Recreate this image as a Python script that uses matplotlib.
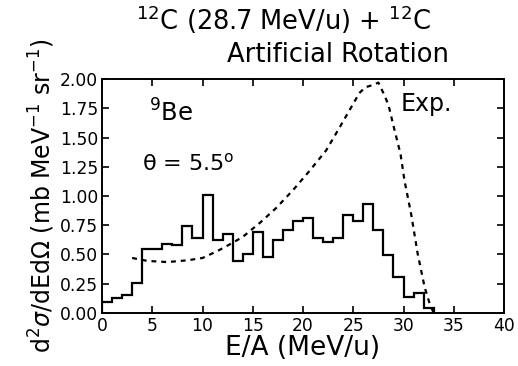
import matplotlib
matplotlib.use("Agg")
import matplotlib.pyplot as plt
import numpy as np

# histogram (1 MeV/u bins, 0..33)
bin_edges = list(range(0, 34))
hist_vals = [0.09, 0.125, 0.15, 0.255, 0.55, 0.545, 0.59, 0.58, 0.745, 0.64,
             1.01, 0.62, 0.675, 0.44, 0.50, 0.695, 0.475, 0.625, 0.71, 0.785,
             0.815, 0.645, 0.61, 0.645, 0.835, 0.785, 0.93, 0.705, 0.495, 0.305,
             0.14, 0.17, 0.04]

# experimental curve (dashed)
exp_x = [3.0, 4.5, 6.5, 8.5, 10.0, 11.5, 13.0, 14.0, 15.7, 17.3, 19.0, 20.6,
         22.3, 23.6, 25.0, 25.6, 26.2, 27.0, 27.5, 28.0, 28.5, 29.0, 29.7,
         30.1, 30.75, 31.4, 32.1, 32.6, 33.0]
exp_y = [0.47, 0.445, 0.435, 0.45, 0.47, 0.53, 0.60, 0.65, 0.77, 0.895, 1.05,
         1.21, 1.39, 1.58, 1.79, 1.88, 1.93, 1.95, 1.97, 1.88, 1.78, 1.60, 1.36,
         1.13, 0.85, 0.51, 0.22, 0.08, 0.0]

x_ticks = [0, 5, 10, 15, 20, 25, 30, 35, 40]
y_ticks = [0.0, 0.25, 0.5, 0.75, 1.0, 1.25, 1.5, 1.75, 2.0]

plt.rcParams["font.family"] = ["DejaVu Sans"]

fig = plt.figure(figsize=(5.18, 3.66), dpi=100)
ax = fig.add_axes([0.197, 0.145, 0.776, 0.639])

ax.stairs(hist_vals, bin_edges, baseline=0, color="black", lw=1.6)
ax.plot(exp_x, exp_y, color="black", lw=1.6, ls=(0, (2.2, 2.2)))

ax.set_xlim(0, 40)
ax.set_ylim(0, 2.0)
ax.set_xticks(x_ticks)
ax.set_yticks(y_ticks)
ax.set_yticklabels([f"{v:.2f}" for v in y_ticks])
ax.tick_params(direction="in", top=True, right=True, length=5, width=1.2,
               labelsize=12.3, pad=3)
for s in ax.spines.values():
    s.set_linewidth(1.4)

ax.set_xlabel("E/A (MeV/u)", fontsize=19, labelpad=0)
ax.set_ylabel(r"d$^2\sigma$/dEd$\Omega$ (mb MeV$^{-1}$ sr$^{-1}$)",
              fontsize=17, labelpad=2)

fig.text(0.548, 0.918, r"$^{12}$C (28.7 MeV/u) + $^{12}$C", ha="center",
         va="baseline", fontsize=18.5)
fig.text(0.6525, 0.831, "Artificial Rotation", ha="center", va="baseline",
         fontsize=18.5)

ax.text(0.117, 0.8175, r"$^9$Be", transform=ax.transAxes, va="baseline",
        fontsize=17.5)
ax.text(0.099, 0.611, r"θ = 5.5$^\mathrm{o}$", transform=ax.transAxes,
        va="baseline", fontsize=16)
ax.text(0.743, 0.8645, "Exp.", transform=ax.transAxes, va="baseline",
        fontsize=17)

fig.savefig("out.png", dpi=100)
